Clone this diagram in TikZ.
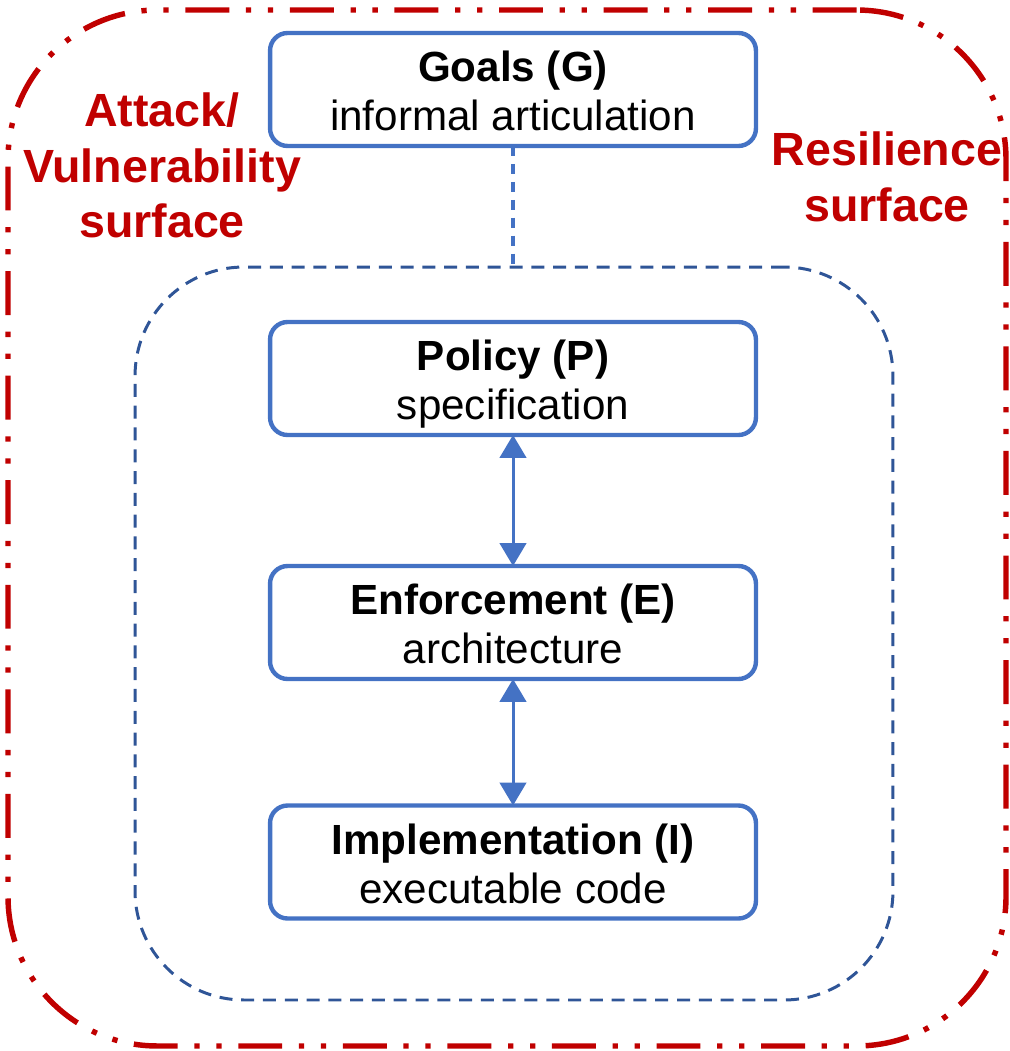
\documentclass[tikz,border=0pt]{standalone}
\usepackage{fontspec}
\setmainfont{Liberation Sans}
\usetikzlibrary{arrows.meta}
\definecolor{boxblue}{HTML}{4472C4}
\definecolor{coreblue}{HTML}{2F5597}
\definecolor{surfred}{HTML}{C00000}
\newcommand{\layertext}[2]{\rule{0pt}{24pt}\textbf{#1}\\#2\vphantom{p}}
\begin{document}
\begin{tikzpicture}[x=0.2mm,y=-0.2mm,inner sep=0pt,outer sep=0pt,
layerbox/.style={draw=boxblue,fill=white,rectangle,rounded corners=10pt,line width=2.5pt,minimum width=276.5pt,minimum height=64.3pt,align=center,font=\fontsize{24}{27.8}\selectfont},
surflabel/.style={align=center,text=surfred,font=\fontsize{26.5}{31.5}\selectfont\bfseries},
>={Triangle[width=15pt,length=13pt]}]
\useasboundingbox (0,0) rectangle (1009,1051);
\draw (507,528) node[draw=surfred,line width=3.1pt,dash pattern=on 25pt off 9.5pt on 3pt off 9.5pt on 3pt off 9.5pt,rounded corners=85pt,minimum width=567.9pt,minimum height=589.5pt] (frame) {};
\draw (514,633.5) node[draw=coreblue,line width=1.7pt,dash pattern=on 7.4pt off 5pt,rounded corners=62pt,minimum width=431.3pt,minimum height=417.1pt] (core) {};
\draw (162,165.5) node[surflabel] (attack) {Attack/\\Vulnerability\\surface};
\draw (887,176.75) node[surflabel] (resilience) {Resilience\\surface};
\draw (513,89.5) node[layerbox] (goals) {\layertext{Goals (G)}{informal articulation}};
\draw (513,378.5) node[layerbox] (policy) {\layertext{Policy (P)}{specification}};
\draw (513,622.5) node[layerbox] (enforce) {\layertext{Enforcement (E)}{architecture}};
\draw (513,862) node[layerbox] (impl) {\layertext{Implementation (I)}{executable code}};
\draw[boxblue,line width=1.8pt,dash pattern=on 5.7pt off 4.5pt] (goals.south) -- (goals.south |- core.north);
\draw[<->,boxblue,line width=1.7pt] (policy.south) -- (enforce.north);
\draw[<->,boxblue,line width=1.7pt] (enforce.south) -- (impl.north);
\end{tikzpicture}
\end{document}
